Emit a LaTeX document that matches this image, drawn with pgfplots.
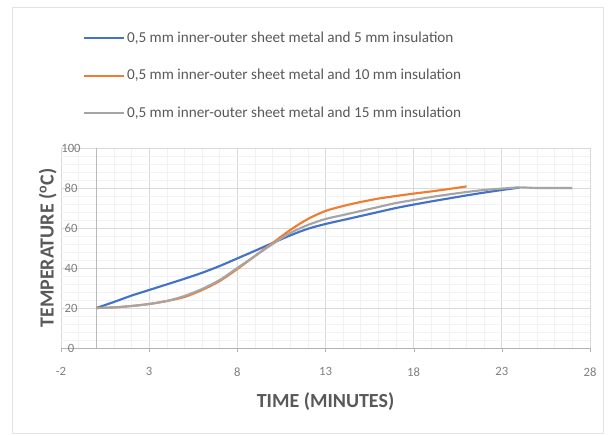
\documentclass[border=0pt]{standalone}
\usepackage{pgfplots}
\pgfplotsset{compat=1.18}
\usepackage{fontspec}
\setmainfont{Carlito}

\definecolor{s5}{HTML}{4472C4}
\definecolor{s10}{HTML}{ED7D31}
\definecolor{s15}{HTML}{A5A5A5}
\definecolor{txt}{HTML}{595959}
\definecolor{tck}{HTML}{7F7F7F}

\begin{document}
\begin{tikzpicture}
\path[use as bounding box, fill=white] (-45.75pt,-66pt) rectangle (415.5pt,261pt);
\draw[gray!22] (-36.75pt,-63.75pt) rectangle (406.5pt,255.75pt);
\begin{axis}[
  scale only axis, width=396.75pt, height=150pt,
  xmin=-2, xmax=28, ymin=0, ymax=100,
  xtick={-2,3,...,28}, ytick={0,20,...,100},
  minor x tick num=4, minor y tick num=4,
  grid=both,
  major grid style={gray!30, line width=0.5pt},
  minor grid style={gray!10, line width=0.4pt},
  axis x line*=bottom, axis y line*=left,
  x axis line style={gray!60, -},
  y axis line style={draw=none},
  xtick pos=bottom, ytick pos=left,
  tick align=outside, major tick length=3pt, minor tick length=0pt,
  xtick style={gray!60}, ytick style={draw=none},
  extra x ticks={0},
  extra x tick labels={},
  extra x tick style={major tick length=0pt, major grid style={gray!55, line width=0.6pt}},
  /pgf/number format/assume math mode=true,
  ticklabel style={font=\fontsize{9.5}{11}\selectfont, text=tck},
  xticklabel style={yshift=-8pt},
  yticklabel style={anchor=center, xshift=10.5pt},
  xlabel={TIME (MINUTES)},
  ylabel={TEMPERATURE (\textsuperscript{o}C)},
  label style={font=\fontsize{15}{17}\selectfont\bfseries, text=txt},
  xlabel style={at={(axis description cs:0.5,0)}, anchor=center, yshift=-40.5pt},
  ylabel style={at={(axis description cs:-0.025,0.5)}, anchor=center},
  legend cell align=left,
  legend image code/.code={\draw[#1] (0pt,0pt) -- (30pt,0pt);},
  legend style={draw=none, fill=none, at={(0.041,1)}, anchor=south west,
    yshift=20pt, inner sep=0pt, row sep=15.5pt,
    font=\fontsize{11.4}{13}\selectfont, text=txt,
    nodes={inner sep=1.5pt}},
]
\addplot[s5, line width=1.6pt, smooth] coordinates {
(0,20) (1,23) (2,26.2) (3,29) (4,31.8) (5,34.6) (6,37.6) (7,41) (8,44.8)
(9,48.6) (10,52.5) (11,56.3) (12,59.6) (13,62) (14,64) (15,66) (16,68)
(17,70) (18,71.7) (19,73.3) (20,74.8) (21,76.3) (22,77.7) (23,79) (24,80.2)
};
\addlegendentry{0,5 mm inner-outer sheet metal and 5 mm insulation}
\addplot[s10, line width=1.6pt, smooth] coordinates {
(0,20) (1,20.3) (2,21) (3,22) (4,23.5) (5,25.5) (6,29) (7,33.5) (8,39.5)
(9,46) (10,52.5) (11,59) (12,64.5) (13,68.5) (14,71) (15,73) (16,74.7)
(17,76) (18,77.2) (19,78.3) (20,79.5) (21,80.8)
};
\addlegendentry{0,5 mm inner-outer sheet metal and 10 mm insulation}
\addplot[s15, line width=1.6pt, smooth] coordinates {
(0,20) (1,20.3) (2,21) (3,22) (4,23.5) (5,26) (6,29.5) (7,34) (8,40)
(9,46) (10,52) (11,57.5) (12,61.5) (13,64.5) (14,66.5) (15,68.5) (16,70.5)
(17,72.5) (18,74) (19,75.5) (20,76.8) (21,78) (22,79) (23,79.7) (24,80.3)
(25,80) (26,80) (27,80)
};
\addlegendentry{0,5 mm inner-outer sheet metal and 15 mm insulation}
\end{axis}
\end{tikzpicture}
\end{document}
